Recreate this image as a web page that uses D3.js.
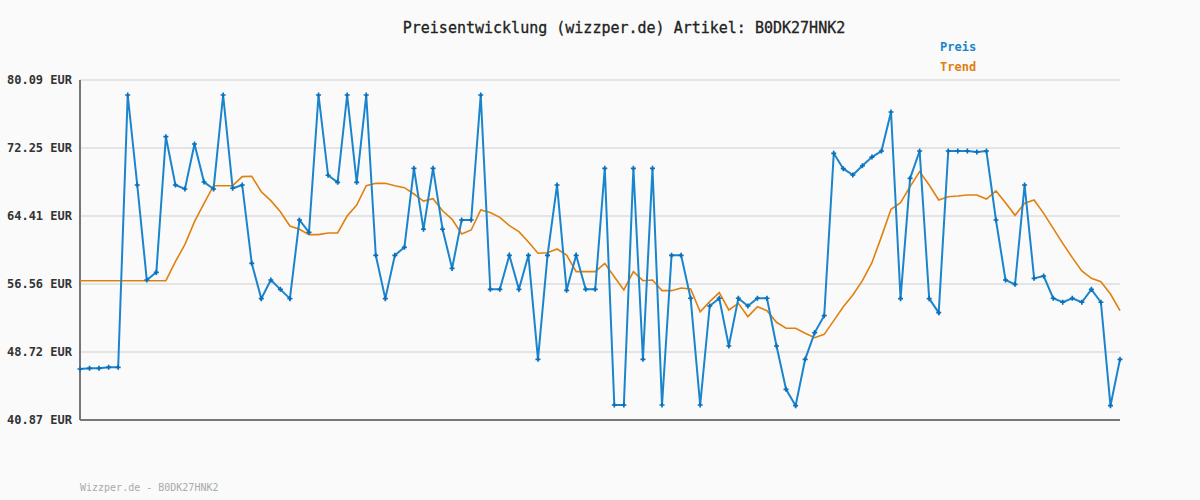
<!DOCTYPE html>
<html><head><meta charset="utf-8">
<script src="https://cdn.jsdelivr.net/npm/d3@7"></script>
<style>body{margin:0;background:#fafafa}</style>
</head><body><svg id="c" width="1200" height="500"></svg>
<script>
const title = "Preisentwicklung (wizzper.de) Artikel: B0DK27HNK2";
const footer = "Wizzper.de - B0DK27HNK2";
const yTicks = [40.87, 48.72, 56.56, 64.41, 72.25, 80.09];
const preis = [46.75,46.83,46.83,46.95,46.95,78.36,67.98,57.02,57.9,73.55,
67.98,67.52,72.71,68.32,67.52,78.36,67.6,67.98,58.94,54.87,
57.02,55.94,54.87,63.94,62.52,78.36,69.1,68.29,78.36,68.29,
78.36,59.87,54.87,59.87,60.79,69.9,62.87,69.9,62.87,58.36,
63.94,63.94,78.36,55.94,55.94,59.87,55.94,59.87,47.87,59.87,
67.98,55.83,59.87,55.94,55.94,69.9,42.6,42.6,69.9,47.87,
69.9,42.6,59.87,59.87,54.91,42.6,54.02,54.91,49.41,54.91,
54.02,54.91,54.91,49.41,44.41,42.52,47.87,50.95,52.9,71.63,
69.86,69.13,70.2,71.2,71.9,76.4,54.87,68.75,71.9,54.87,
53.25,71.9,71.9,71.9,71.79,71.9,63.94,57.02,56.52,67.98,
57.21,57.48,54.91,54.45,54.91,54.45,55.94,54.45,42.52,47.87];
const trend = [56.94,56.94,56.94,56.94,56.94,56.94,56.94,56.94,56.94,56.94,
59.13,61.14,63.75,65.87,67.9,67.9,67.9,68.94,68.98,67.2,
66.17,64.9,63.25,62.87,62.25,62.25,62.44,62.44,64.4,65.67,
67.9,68.17,68.17,67.9,67.67,66.94,66.13,66.4,65.0,64.02,
62.33,62.79,65.1,64.8,64.25,63.3,62.6,61.4,60.1,60.17,
60.6,59.9,57.98,57.98,57.98,58.94,57.4,55.87,57.98,56.94,
57.02,55.79,55.79,56.1,55.98,53.36,54.52,55.56,53.56,54.33,
52.79,53.94,53.48,52.14,51.45,51.45,50.87,50.36,50.75,52.33,
53.94,55.29,56.94,59.02,62.02,65.17,65.94,67.79,69.52,67.98,
66.25,66.63,66.71,66.83,66.83,66.36,67.29,65.94,64.48,65.87,
66.25,64.71,62.98,61.25,59.6,58.06,57.21,56.83,55.4,53.48];

const svg = d3.select("#c");
const mono = "'DejaVu Sans Mono', monospace";
const x = d3.scaleLinear().domain([0, preis.length-1]).range([80,1120]);
const y = d3.scaleLinear().domain([40.87, 80.09]).range([420,80]);

svg.append("rect").attr("width",1200).attr("height",500).attr("fill","#fafafa");
svg.selectAll(".g").data(yTicks.slice(1)).enter().append("line")
  .attr("x1",80).attr("x2",1120).attr("y1",d=>y(d)).attr("y2",d=>y(d))
  .attr("stroke","#e4e4e4").attr("stroke-width",2);
svg.selectAll(".yl").data(yTicks).enter().append("text")
  .attr("x",72).attr("y",d=>y(d)+4).attr("text-anchor","end")
  .attr("font-family",mono).attr("font-size",12).attr("font-weight","bold").attr("fill","#333")
  .text(d=>d.toFixed(2)+" EUR");
svg.append("line").attr("x1",80).attr("x2",80).attr("y1",80).attr("y2",420).attr("stroke","#777").attr("stroke-width",2);
svg.append("line").attr("x1",80).attr("x2",1120).attr("y1",420).attr("y2",420).attr("stroke","#777").attr("stroke-width",2);

const line = d3.line().x((d,i)=>x(i)).y(d=>y(d));
svg.append("path").datum(trend).attr("d",line).attr("fill","none").attr("stroke","#e0800f").attr("stroke-width",1.6);
svg.append("path").datum(preis).attr("d",line).attr("fill","none").attr("stroke","#1a85cc").attr("stroke-width",2);
svg.selectAll(".m").data(preis).enter().append("path")
  .attr("transform",(d,i)=>`translate(${x(i)},${y(d)})`)
  .attr("d",d3.symbol(d3.symbolCross,14)).attr("fill","#0a6fb8");

svg.append("text").attr("x",624).attr("y",33).attr("text-anchor","middle")
  .attr("font-family",mono).attr("font-size",15).attr("fill","#222").attr("stroke","#222").attr("stroke-width",0.3).text(title);
svg.append("text").attr("x",940).attr("y",51).attr("font-family",mono).attr("font-size",12)
  .attr("font-weight","bold").attr("fill","#1a85cc").text("Preis");
svg.append("text").attr("x",940).attr("y",71).attr("font-family",mono).attr("font-size",12)
  .attr("font-weight","bold").attr("fill","#e0800f").text("Trend");
svg.append("text").attr("x",80).attr("y",491).attr("font-family",mono).attr("font-size",10)
  .attr("fill","#aaa").text(footer);
</script></body></html>
